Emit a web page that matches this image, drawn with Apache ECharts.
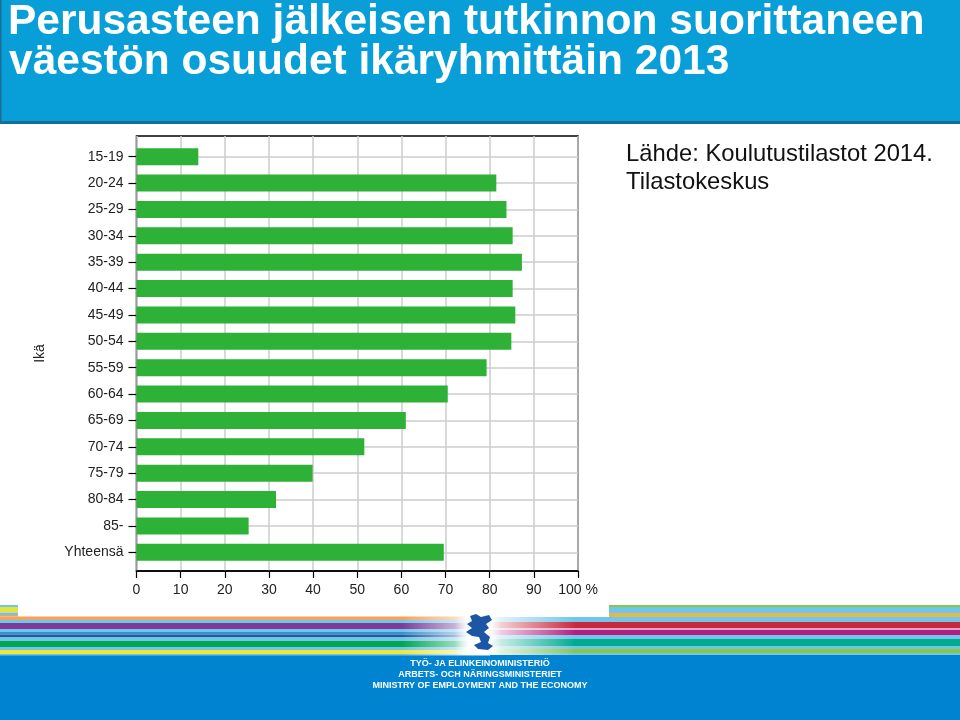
<!DOCTYPE html>
<html>
<head>
<meta charset="utf-8">
<script src="https://cdn.jsdelivr.net/npm/echarts@6/dist/echarts.min.js"></script>
<style>html,body{margin:0;padding:0;background:#fff}#c{width:960px;height:720px}</style>
</head>
<body>
<div id="c"></div>
<script>
// ---- data ----
const categories = ['15-19','20-24','25-29','30-34','35-39','40-44','45-49','50-54','55-59','60-64','65-69','70-74','75-79','80-84','85-','Yhteensä'];
const shares = [14.0, 81.5, 83.8, 85.2, 87.3, 85.2, 85.8, 84.9, 79.3, 70.5, 61.0, 51.6, 39.9, 31.6, 25.4, 69.6];
const titleLines = ['Perusasteen jälkeisen tutkinnon suorittaneen', 'väestön osuudet ikäryhmittäin 2013'];
const sourceLines = ['Lähde: Koulutustilastot 2014.', 'Tilastokeskus'];
const axisName = 'Ikä';
const footerLines = ['TYÖ- JA ELINKEINOMINISTERIÖ', 'ARBETS- OCH NÄRINGSMINISTERIET', 'MINISTRY OF EMPLOYMENT AND THE ECONOMY'];

// ---- layout ----
const FONT = '"Liberation Sans", Arial, sans-serif';
const plotL = 136.5, plotW = 441.5, frameT = 136, frameH = 435;
const barT = 156.7, barH = 395.6;

const LB = '#6ec6ea';
function stripe(x, y, w, h, color, fade) {
  let fill = color;
  if (fade === 'right') {
    fill = new echarts.graphic.LinearGradient(0, 0, 1, 0, [
      {offset: 0, color: color}, {offset: 0.82, color: color}, {offset: 1, color: '#ffffff'}]);
  } else if (fade === 'left') {
    fill = new echarts.graphic.LinearGradient(0, 0, 1, 0, [
      {offset: 0, color: '#ffffff'}, {offset: 0.2, color: color}, {offset: 1, color: color}]);
  }
  return {type: 'rect', silent: true, shape: {x: x, y: y, width: w, height: h}, style: {fill: fill}, z: 1};
}
const leftStripes = [[616.5,3.5,'#f5a25a'],[620,3,LB],[623,6,'#7d3c98'],[629,3,LB],[632,2.5,'#3b8fd0'],[634.5,3,'#1d5aa0'],[637.5,3.5,LB],[641,6,'#00a651'],[647,3,LB],[650,4,'#f2e53a'],[654,1.5,LB]];
const leftBlock = [[605,2,LB],[607,5.5,'#e8e33c'],[612.5,2.5,LB],[615,1.5,'#f5a25a']];
const rightBlock = [[605,2,'#8dc63f'],[607,6,LB],[613,4,'#e6b84c']];
const rightStripes = [[617,5,LB],[622,6,'#c9283b'],[628,2,'#d7a9c8'],[630,5,'#b51c7f'],[635,4,LB],[639,7,'#00ab8e'],[646,3,LB],[649,4,'#8cc63f'],[653,2,LB]];

const graphics = [];
// title band
graphics.push({type: 'rect', silent: true, shape: {x: 0, y: 0, width: 960, height: 124}, style: {fill: '#1a6d94'}, z: 0});
graphics.push({type: 'rect', silent: true, shape: {x: 1.5, y: 0, width: 958.5, height: 121}, style: {fill: '#089ed8'}, z: 1});
graphics.push({type: 'text', silent: true, x: 8, y: 22, style: {text: titleLines[0], fill: '#fff', font: 'bold 42.5px ' + FONT, verticalAlign: 'middle'}, z: 2});
graphics.push({type: 'text', silent: true, x: 9, y: 62, style: {text: titleLines[1], fill: '#fff', font: 'bold 42.5px ' + FONT, verticalAlign: 'middle'}, z: 2});
// source
graphics.push({type: 'text', silent: true, x: 626, y: 154, style: {text: sourceLines[0], fill: '#111', font: '23.8px ' + FONT, verticalAlign: 'middle'}, z: 2});
graphics.push({type: 'text', silent: true, x: 626, y: 182, style: {text: sourceLines[1], fill: '#111', font: '23.8px ' + FONT, verticalAlign: 'middle'}, z: 2});
// footer
graphics.push({type: 'rect', silent: true, shape: {x: 0, y: 655, width: 960, height: 65}, style: {fill: '#0084d2'}, z: 0});
leftBlock.forEach(s => graphics.push(stripe(0, s[0], 18, s[1], s[2])));
leftStripes.forEach(s => graphics.push(stripe(0, s[0], 490, s[1], s[2], 'right')));
rightBlock.forEach(s => graphics.push(stripe(609, s[0], 351, s[1], s[2])));
rightStripes.forEach(s => graphics.push(stripe(480, s[0], 480, s[1], s[2], 'left')));
graphics.push({type: 'rect', silent: true, shape: {x: 455, y: 614, width: 46, height: 41}, style: {fill: new echarts.graphic.LinearGradient(0,0,1,0,[{offset:0,color:'rgba(255,255,255,0)'},{offset:0.3,color:'#fff'},{offset:0.7,color:'#fff'},{offset:1,color:'rgba(255,255,255,0)'}])}, z: 2});
// simplified crest emblem
graphics.push({type: 'polygon', silent: true, z: 3, shape: {points: [
  [470,616],[476,614],[481,617],[489,615],[492,620],[486,624],[489,628],[484,632],[490,637],[488,643],[493,646],[488,650],[478,649],[474,645],[481,642],[479,637],[472,636],[466,632],[472,628],[467,624],[472,621]
]}, style: {fill: '#1c57a5'}});
footerLines.forEach((t, i) => graphics.push({type: 'text', silent: true, x: 480, y: 664 + i * 10.7,
  style: {text: t, fill: '#fff', font: 'bold 9px ' + FONT, align: 'center', verticalAlign: 'middle'}, z: 3}));

const chart = echarts.init(document.getElementById('c'), null, {renderer: 'canvas'});
chart.setOption({
  animation: false,
  backgroundColor: '#fff',
  textStyle: {fontFamily: FONT},
  grid: [
    {left: plotL, top: frameT, width: plotW, height: frameH, show: true, borderColor: '#000', borderWidth: 1.5, backgroundColor: 'transparent', containLabel: false},
    {left: plotL, top: barT, width: plotW, height: barH, containLabel: false}
  ],
  xAxis: [
    {gridIndex: 0, type: 'value', min: 0, max: 100, interval: 10,
     axisLine: {show: true, lineStyle: {color: '#000', width: 1.5}},
     axisTick: {show: true, length: 7, lineStyle: {color: '#000', width: 1.2}},
     axisLabel: {margin: 12, color: '#222', fontSize: 14, fontFamily: FONT, formatter: v => v === 100 ? '100 %' : String(v)},
     splitLine: {show: true, lineStyle: {color: '#cccccc', width: 1.5}}},
    {gridIndex: 1, type: 'value', min: 0, max: 100, show: false}
  ],
  yAxis: [
    {gridIndex: 0, type: 'value', min: 0, max: 1, name: axisName, nameLocation: 'middle', nameRotate: 90, nameGap: 89,
     nameTextStyle: {color: '#222', fontSize: 14, fontFamily: FONT},
     axisLine: {show: false}, axisTick: {show: false}, axisLabel: {show: false}, splitLine: {show: false}},
    {gridIndex: 1, type: 'category', data: categories, inverse: true, boundaryGap: false,
     axisLine: {show: false},
     axisTick: {show: true, length: 8, interval: 0, lineStyle: {color: '#000', width: 1.2}},
     axisLabel: {interval: 0, margin: 13, color: '#222', fontSize: 14, fontFamily: FONT},
     splitLine: {show: true, interval: 0, lineStyle: {color: '#cccccc', width: 1.5}}}
  ],
  series: [{
    type: 'bar', xAxisIndex: 1, yAxisIndex: 1, data: shares, barWidth: 17, clip: false,
    itemStyle: {color: '#2eb137'}, silent: true
  }],
  graphic: graphics
});
</script>
</body>
</html>
